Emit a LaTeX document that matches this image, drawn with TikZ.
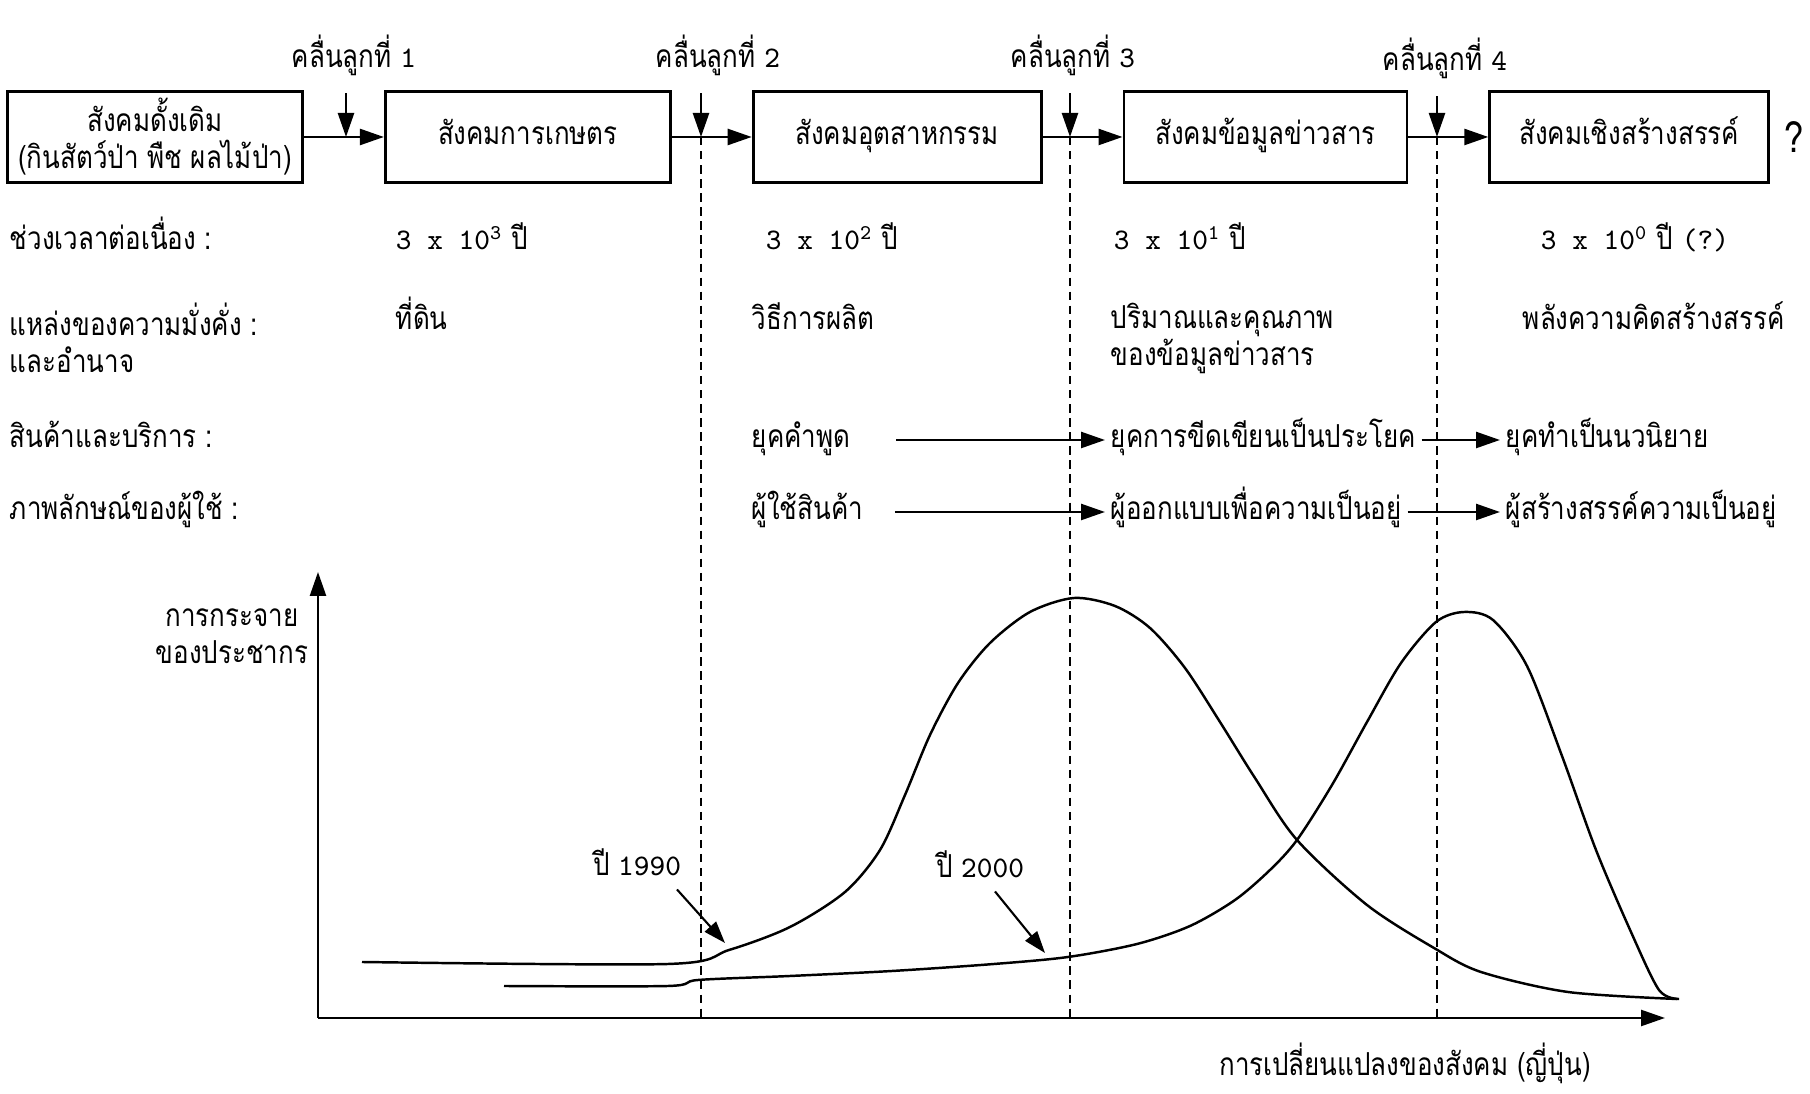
\documentclass[tikz,border=0pt]{standalone}
\usepackage{fontspec}
\setmainfont[Script=Thai, FakeStretch=0.82]{Loma}
\usetikzlibrary{arrows.meta, positioning}
\newcommand{\tnum}[1]{{\ttfamily\fontsize{8.5}{10}\selectfont #1}}

\begin{document}
\begin{tikzpicture}[
    x=0.1mm, y=-0.1mm,
    font=\fontsize{9}{10.5}\selectfont,
    node distance=8.0mm,
    society/.style={rectangle, draw=black, line width=0.8pt, minimum height=9.1mm, align=center, inner sep=1pt},
    textline/.style={inner sep=1.5pt, text height=2.3mm, text depth=0.8mm},
    cell/.style={textline, anchor=west},
    twoline/.style={anchor=west, align=left, inner sep=1.5pt},
    arrow/.style={-{Triangle[length=2.4mm, width=1.6mm]}, line width=0.7pt},
    pointer/.style={-{Triangle[length=2.2mm, width=1.5mm]}, line width=0.6pt},
    guide/.style={dash pattern=on 2.4pt off 1.6pt, line width=0.45pt},
    curve/.style={line width=0.7pt}
  ]
  \useasboundingbox (0,0) rectangle (1810,1094);
  \fill[white] (0,0) rectangle (1810,1094);

  % Societies
  \node[society, minimum width=29.5mm] (primitive) at (155,137) {สังคมดั้งเดิม\\(กินสัตว์ป่า พืช ผลไม้ป่า)};
  \node[society, textline, minimum width=28.5mm, right=of primitive] (agri) {สังคมการเกษตร};
  \node[society, textline, minimum width=28.8mm, right=of agri] (industry) {สังคมอุตสาหกรรม};
  \node[society, textline, minimum width=28.3mm, right=of industry] (info) {สังคมข้อมูลข่าวสาร};
  \node[society, textline, minimum width=27.9mm, right=of info] (creative) {สังคมเชิงสร้างสรรค์};
  \node[right=1.4mm of creative, inner sep=0pt, font=\large] (unknown) {?};

  \draw[arrow] (primitive) -- (agri);
  \draw[arrow] (agri) -- (industry);
  \draw[arrow] (industry) -- (info);
  \draw[arrow] (info) -- (creative);

  % Waves
  \coordinate (wave1) at (346,137);
  \coordinate (wave2) at (701,137);
  \coordinate (wave3) at (1070,137);
  \coordinate (wave4) at (1437,137);
  \node[textline] (w1) at (354,60) {คลื่นลูกที่ \tnum{1}};
  \node[textline] (w2) at (718,60) {คลื่นลูกที่ \tnum{2}};
  \node[textline] (w3) at (1073,60) {คลื่นลูกที่ \tnum{3}};
  \node[textline] (w4) at (1445,63) {คลื่นลูกที่ \tnum{4}};
  \draw[arrow, shorten <=1.2mm] (w1.south -| wave1) -- (wave1);
  \draw[arrow, shorten <=1.2mm] (w2.south -| wave2) -- (wave2);
  \draw[arrow, shorten <=1.2mm] (w3.south -| wave3) -- (wave3);
  \draw[arrow, shorten <=1.2mm] (w4.south -| wave4) -- (wave4);

  % Rows
  \node[cell] (period) at (4,242) {ช่วงเวลาต่อเนื่อง :};
  \node[twoline] (wealth) at (4,338) {แหล่งของความมั่งคั่ง :\\และอำนาจ};
  \node[cell] (goods) at (4,440) {สินค้าและบริการ :};
  \node[cell] (users) at (4,512) {ภาพลักษณ์ของผู้ใช้ :};

  \node[cell] (p1) at (390,242) {\tnum{3 x 10\textsuperscript{3}} ปี};
  \node[cell] (p2) at (760,242) {\tnum{3 x 10\textsuperscript{2}} ปี};
  \node[cell] (p3) at (1108,242) {\tnum{3 x 10\textsuperscript{1}} ปี};
  \node[cell] (p4) at (1535,242) {\tnum{3 x 10\textsuperscript{0}} ปี \tnum{(?)}};

  \node[cell] (land) at (390,322) {ที่ดิน};
  \node[cell] (production) at (746,322) {วิธีการผลิต};
  \node[twoline] (quality) at (1105,338) {ปริมาณและคุณภาพ\\ของข้อมูลข่าวสาร};
  \node[cell] (creativity) at (1517,322) {พลังความคิดสร้างสรรค์};

  \node[cell] (speech) at (746,440) {ยุคคำพูด};
  \node[cell] (sentence) at (1105,440) {ยุคการขีดเขียนเป็นประโยค};
  \node[cell] (novel) at (1500,440) {ยุคทำเป็นนวนิยาย};
  \draw[arrow, shorten <=4mm] (speech) -- (sentence);
  \draw[arrow] (sentence) -- (novel);

  \node[cell] (consumer) at (746,512) {ผู้ใช้สินค้า};
  \node[cell] (designer) at (1105,512) {ผู้ออกแบบเพื่อความเป็นอยู่};
  \node[cell] (creator) at (1500,512) {ผู้สร้างสรรค์ความเป็นอยู่};
  \draw[arrow, shorten <=2.6mm] (consumer) -- (designer);
  \draw[arrow] (designer) -- (creator);

  % Chart
  \coordinate (origin) at (318,1018);
  \coordinate (ytip) at (318,572);
  \coordinate (xtip) at (1665,1018);
  \draw[arrow] (origin) -- (ytip);
  \draw[arrow] (origin) -- (xtip);
  \node[align=center] (ylabel) at (232,636) {การกระจาย\\ของประชากร};
  \node[textline] (xlabel) at (1405,1068) {การเปลี่ยนแปลงของสังคม (ญี่ปุ่น)};

  \draw[guide] (wave2) -- (wave2 |- origin);
  \draw[guide] (wave3) -- (wave3 |- origin);
  \draw[guide] (wave4) -- (wave4 |- origin);

  \draw[curve] plot[smooth, tension=0.5] coordinates {(362,962) (668,964) (729,950) (790,927) (845,892) (880,850) (905,795) (930,735) (958,683) (990,643) (1030,612) (1074,598) (1115,606) (1150,628) (1185,668) (1220,722) (1255,778) (1297,840) (1367,905) (1434,948) (1481,972) (1568,992) (1677,999)};
  \draw[curve] plot[smooth, tension=0.5] coordinates {(504,986) (668,986) (698,980) (790,976) (892,971) (994,964) (1068,957) (1137,944) (1190,926) (1235,900) (1270,870) (1297,840) (1332,785) (1367,722) (1401,663) (1436,622) (1464,612) (1493,620) (1527,666) (1562,756) (1596,850) (1631,932) (1659,990) (1679,999)};

  \node[textline] (y1990) at (637,868) {ปี \tnum{1990}};
  \node[textline] (y2000) at (980,870) {ปี \tnum{2000}};
  \coordinate (p1990) at (725,943);
  \coordinate (p2000) at (1045,953);
  \draw[pointer] ([xshift=4mm]y1990.south) -- (p1990);
  \draw[pointer] ([xshift=1.5mm]y2000.south) -- (p2000);

\end{tikzpicture}
\end{document}
